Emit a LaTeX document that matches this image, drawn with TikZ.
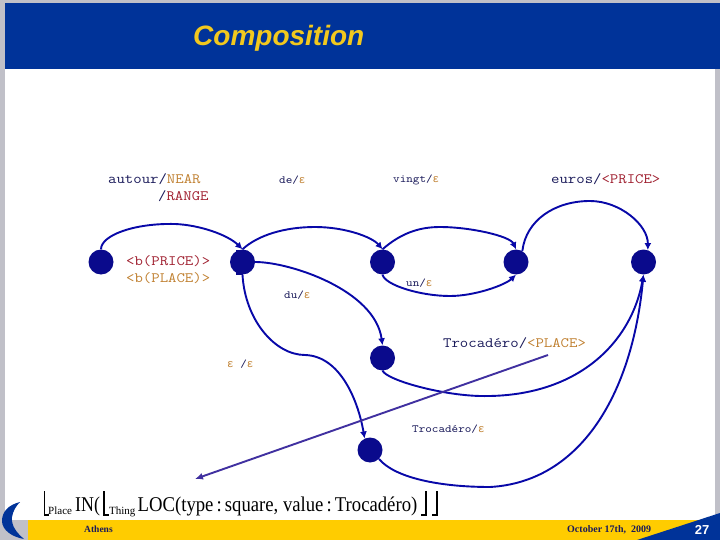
\documentclass[tikz,border=0pt]{standalone}
\usepackage{graphicx}
\usepackage{fontspec}
\setmainfont{Liberation Serif}
\setsansfont{Liberation Sans}
\setmonofont[FakeStretch=1.14]{Latin Modern Mono}
\newfontfamily\epsfont{Liberation Mono}
\usetikzlibrary{arrows.meta}
\definecolor{hdr}{HTML}{003399}
\definecolor{gold}{HTML}{FFCC00}
\definecolor{ttl}{HTML}{F2C81E}
\definecolor{frm}{HTML}{C0C0C8}
\definecolor{nav}{HTML}{0A0A8C}
\definecolor{edge}{HTML}{0808A8}
\definecolor{dk}{HTML}{1A1A5A}
\definecolor{org}{HTML}{C08030}
\definecolor{rd}{HTML}{A02030}
\definecolor{prp}{HTML}{4030A0}
\tikzset{
  st/.style={circle,fill=nav,minimum size=25pt,inner sep=0pt},
  arc/.style={draw=edge,line width=1.9pt,-{Latex[length=7pt,width=7pt]}},
  lab/.style={font=\ttfamily\fontsize{14.3}{16}\selectfont,text=dk,inner sep=0pt,anchor=west},
  labs/.style={font=\ttfamily\fontsize{11}{13}\selectfont,text=dk,inner sep=0pt,anchor=west},
  brk/.style={black,line width=1.2pt},
  formula/.style={font=\fontsize{21}{24}\selectfont,inner sep=0pt,anchor=base west},
  subs/.style={font=\fontsize{11}{13}\selectfont,inner sep=0pt,anchor=base west},
}
\newcommand{\eps}{{\color{org}\epsfont ε}}
\begin{document}
\begin{tikzpicture}[x=1pt,y=-1pt]
\useasboundingbox (0,0) rectangle (720,540);
\fill[frm] (0,0) rectangle (720,540);
\fill[white] (5,3) rectangle (715,520);
\fill[hdr] (5,3) rectangle (720,69);
\node[font=\sffamily\bfseries\itshape\fontsize{28}{30}\selectfont,text=ttl,inner sep=0pt,anchor=west] (title) at (193,38.5) {Composition};
% footer
\fill[gold] (28,520) rectangle (720,540);
\fill[hdr] (637,540) -- (720,513) -- (720,540) -- cycle;
\fill[hdr] (20,502) .. controls (8,505) and (2,512) .. (2,521) .. controls (2,530) and (12,537) .. (24,539) .. controls (17,533) and (11,526) .. (12,517) .. controls (13,511) and (16,506) .. (20,502) -- cycle;
\node[font=\bfseries\fontsize{9.5}{11}\selectfont,text=dk,inner sep=0pt,anchor=west] (ath) at (84,529.5) {Athens};
\node[font=\bfseries\fontsize{10}{11}\selectfont,text=dk,inner sep=0pt,anchor=west] (date) at (567,529.5) {October 17th,\ \ 2009};
\node[font=\sffamily\bfseries\fontsize{13}{15}\selectfont,text=white,inner sep=0pt] (pg) at (702,530) {27};
% formula
\node[formula] (inn) at (75,511) {\scalebox{.85}[1]{IN(}};
\node[subs] (pl) at (48,514) {Place};
\node[subs] (th) at (109,514) {Thing};
\node[formula] (loc) at (137.5,511) {\scalebox{.89}[1]{LOC(type\,:\,square, value\,:\,Trocadéro)}};
\draw[brk] (44.5,491) -- (44.5,515) -- (49,515);
\draw[brk] (104,491) -- (104,515) -- (109,515);
\draw[brk,line width=2pt] (426,491) -- (426,515) -- (421,515);
\draw[brk] (437,491) -- (437,515) -- (432,515);
% states
\node[st] (n1) at (101,262) {};
\fill[nav] (236,249.5) rectangle (243,274.5);
\node[st] (n2) at (242.5,262) {};
\node[st] (n3) at (382.5,262) {};
\node[st] (n4) at (516,262) {};
\node[st] (n5) at (643.5,262) {};
\node[st] (n6) at (382.5,358) {};
\node[st] (n7) at (370,450) {};
% arcs
\draw[arc] (n1.north) .. controls (101,235) and (135,223) .. (175,224) .. controls (200,225) and (228,235) .. (n2.north);
\draw[arc] (n2.north) .. controls (258,235) and (285,227) .. (315,227) .. controls (345,227) and (372,237) .. (n3.north);
\draw[arc] (n3.north) .. controls (400,234) and (418,227) .. (440,227) .. controls (470,227) and (510,236) .. (n4.north);
\draw[arc] (n3.south) .. controls (385,285) and (420,296) .. (450,296) .. controls (475,296) and (505,285) .. (n4.south);
\draw[arc] (n4.60) .. controls (526,220) and (555,201) .. (590,201) .. controls (620,201) and (648,225) .. (n5.70);
\draw[arc] (n2.east) .. controls (290,262) and (375,290) .. (n6.north);
\draw[arc] (n2.south) .. controls (245,320) and (275,355) .. (305,355) .. controls (340,356) and (358,400) .. (n7.115);
\draw[arc] (n6.south) .. controls (387,380) and (440,395) .. (480,396) .. controls (580,398) and (632,340) .. (n5.south);
\draw[arc] (n7.south east) .. controls (395,478) and (440,487) .. (490,487) .. controls (580,482) and (632,395) .. (n5.south);
\coordinate (t1) at (548,355);
\coordinate (t2) at (195,479);
\draw[draw=prp,line width=1.9pt,-{Latex[length=8pt,width=7pt]}] (t1) -- (t2);
% labels
\node[lab] (l1) at (108,179) {autour/\textcolor{org}{NEAR}};
\node[lab] (l1b) at (158,196) {/\textcolor{rd}{RANGE}};
\node[labs] (l2) at (279,180) {de/\eps};
\node[labs] (l3) at (393,180) {vingt/\eps};
\node[lab] (l4) at (551,179) {euros/\textcolor{rd}{<PRICE>}};
\node[lab,text=rd] (l5) at (126,261) {<b(PRICE)>};
\node[lab,text=org] (l6) at (126,278) {<b(PLACE)>};
\node[labs] (l7) at (284,295) {du/\eps};
\node[labs] (l8) at (406,283) {un/\eps};
\node[lab] (l9) at (443,343) {Trocadéro/\textcolor{org}{<PLACE>}};
\node[labs] (l10) at (227,364) {\eps\ /\eps};
\node[labs] (l11) at (412,429) {Trocadéro/\eps};
\end{tikzpicture}
\end{document}
